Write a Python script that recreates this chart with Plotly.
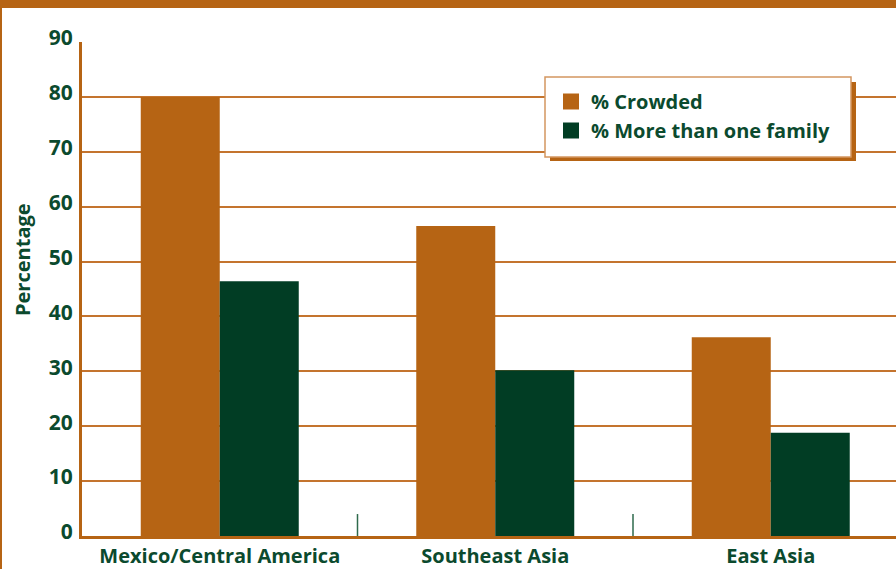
import plotly.graph_objects as go

# Household conditions by region of origin
regions = ["Mexico/Central America", "Southeast Asia", "East Asia"]
pct_crowded = [80.0, 56.5, 36.2]
pct_multi_family = [46.4, 30.2, 18.8]
series_names = ["% Crowded", "% More than one family"]
y_ticks = [0, 10, 20, 30, 40, 50, 60, 70, 80, 90]

ORANGE = "#B66414"
GREEN = "#013D24"
TEXT = "#0B4A2E"
FONT = "Open Sans"

W, H = 896, 569
ML, MR, MT, MB = 82, 0, 42, 33
PW, PH = W - ML - MR, H - MT - MB


def px_x(px):
    return (px - ML) / PW


def px_y(px):
    return 1 - (px - MT) / PH


fig = go.Figure()
for name, vals, col in [(series_names[0], pct_crowded, ORANGE),
                        (series_names[1], pct_multi_family, GREEN)]:
    fig.add_trace(go.Bar(x=regions, y=vals, name=name, marker_color=col,
                         marker_line_width=0, showlegend=False))
    # legend swatch
    fig.add_trace(go.Scatter(x=[None], y=[None], mode="markers", name=name,
                             marker=dict(symbol="square", size=18, color=col,
                                         line_width=0)))

# category slot width in px is 275.5 -> visible range ends before 2.5
slot_px = 275.5
x_end = -0.5 + PW / slot_px

shapes = []
# separator ticks between category groups
for i in range(len(regions) - 1):
    shapes.append(dict(type="line", xref="x", yref="y", x0=i + 0.5, x1=i + 0.5,
                       y0=0, y1=4, line=dict(color="#2E6A4C", width=1.5)))
# outer frame: top band and left rule
shapes.append(dict(type="rect", xref="paper", yref="paper",
                   x0=px_x(0), x1=1, y0=px_y(8), y1=px_y(0),
                   fillcolor=ORANGE, line_width=0, layer="above"))
shapes.append(dict(type="line", xref="paper", yref="paper",
                   x0=px_x(1), x1=px_x(1), y0=px_y(H), y1=px_y(0),
                   line=dict(color=ORANGE, width=2)))
# legend panel with drop shadow
lx0, lx1, ly0, ly1 = 545, 851, 77, 157
shapes.append(dict(type="rect", xref="paper", yref="paper",
                   x0=px_x(lx0 + 5), x1=px_x(lx1 + 5),
                   y0=px_y(ly1 + 4), y1=px_y(ly0 + 5),
                   fillcolor=ORANGE, line_width=0, layer="above"))
shapes.append(dict(type="rect", xref="paper", yref="paper",
                   x0=px_x(lx0), x1=px_x(lx1), y0=px_y(ly1), y1=px_y(ly0),
                   fillcolor="white", line=dict(color="#D49660", width=1.5),
                   layer="above"))

fig.update_layout(
    width=W, height=H,
    margin=dict(l=ML, r=MR, t=MT, b=MB),
    paper_bgcolor="white", plot_bgcolor="white",
    barmode="group", bargap=0.4265, bargroupgap=0,
    font=dict(family=FONT, color=TEXT),
    shapes=shapes,
    legend=dict(x=px_x(551), y=px_y(82),
                xanchor="left", yanchor="top",
                bgcolor="rgba(0,0,0,0)", borderwidth=0,
                font=dict(size=20, family=FONT, color=TEXT, weight="bold"),
                itemwidth=30, tracegroupgap=0),
    annotations=[dict(text="Percentage", xref="paper", yref="paper",
                      x=px_x(22), y=px_y(260), textangle=-90, showarrow=False,
                      xanchor="center", yanchor="middle",
                      font=dict(size=20, family=FONT, color=TEXT, weight="bold"))],
    xaxis=dict(range=[-0.5, x_end], showgrid=False, showline=True,
               linecolor=ORANGE, linewidth=3, ticks="", fixedrange=True,
               tickfont=dict(size=20, family=FONT, color=TEXT, weight="bold")),
    yaxis=dict(range=[0, 90], tickvals=y_ticks, showgrid=True,
               gridcolor="#C4742E", gridwidth=2, zeroline=False,
               showline=True, linecolor=ORANGE, linewidth=3, ticks="",
               ticklabelstandoff=2, ticklabelshift=-4,
               tickfont=dict(size=21, family=FONT, color=TEXT, weight="bold")),
)

fig.write_html("out.html")
